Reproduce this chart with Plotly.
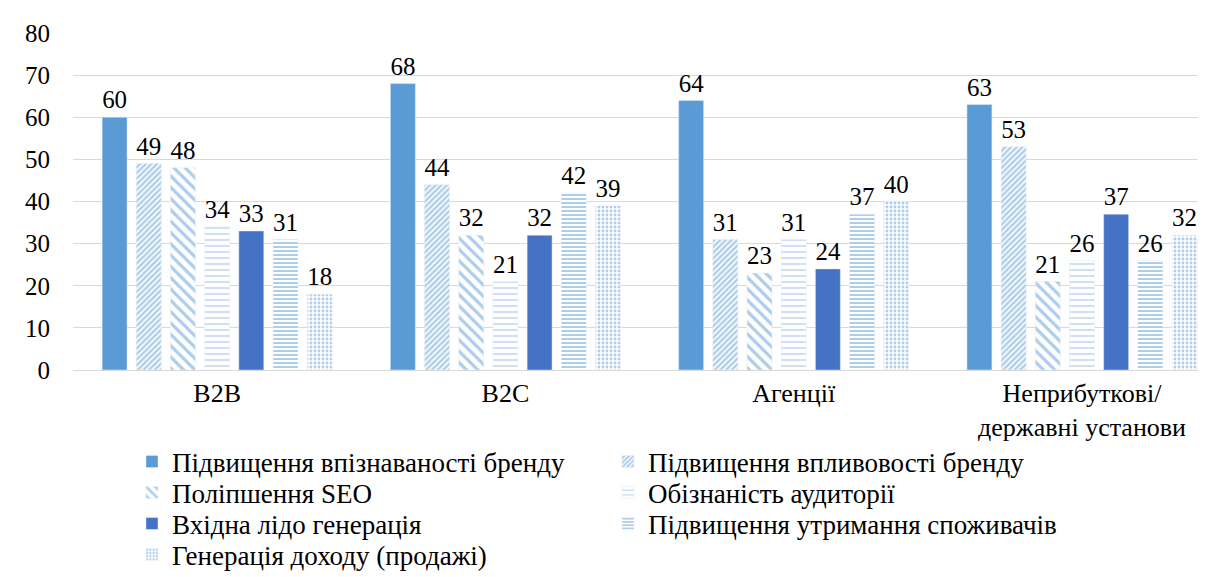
import plotly.graph_objects as go

categories = ["B2B", "B2C", "Агенції", "Неприбуткові/<br>державні установи"]
series_names = [
    "Підвищення впізнаваності бренду",
    "Підвищення впливовості бренду",
    "Поліпшення SEO",
    "Обізнаність аудиторії",
    "Вхідна лідо генерація",
    "Підвищення утримання споживачів",
    "Генерація доходу (продажі)",
]
values = [
    [60, 68, 64, 63],
    [49, 44, 31, 53],
    [48, 32, 23, 21],
    [34, 21, 31, 26],
    [33, 32, 24, 37],
    [31, 42, 37, 26],
    [18, 39, 40, 32],
]
legend_rows = ["legend", "legend", "legend2", "legend2", "legend3", "legend3", "legend4"]

styles = [
    dict(color="#5B9BD5"),
    dict(color="#5B9BD5", pattern=dict(shape="/", fgcolor="#5B9BD5", bgcolor="white", size=4, solidity=0.6)),
    dict(color="#5B9BD5", pattern=dict(shape="\\", fgcolor="#5B9BD5", bgcolor="white", size=8, solidity=0.4)),
    dict(color="#9DC3E6", pattern=dict(shape="-", fgcolor="#7FB0DE", bgcolor="white", size=6, solidity=0.25)),
    dict(color="#4472C4"),
    dict(color="#5B9BD5", pattern=dict(shape="-", fgcolor="#5B9BD5", bgcolor="white", size=4, solidity=0.5)),
    dict(color="#5B9BD5", pattern=dict(shape=".", fgcolor="#5B9BD5", bgcolor="white", size=4, solidity=0.4)),
]

FONT = "Liberation Serif"

fig = go.Figure()
for name, vals, st, lg in zip(series_names, values, styles, legend_rows):
    marker = dict(color=st["color"])
    if "pattern" in st:
        marker["pattern"] = st["pattern"]
    fig.add_trace(go.Bar(
        name=name, x=categories, y=vals, marker=marker, legend=lg,
        text=[str(v) for v in vals], textposition="outside",
        textfont=dict(family=FONT, size=26),
    ))

def row_legend(ypos):
    return dict(
        orientation="h", x=0.0517, xanchor="left", y=ypos, yanchor="middle",
        entrywidth=431, entrywidthmode="pixels", bgcolor="rgba(0,0,0,0)",
        font=dict(family=FONT, size=27),
    )

fig.update_layout(
    width=1206, height=577,
    barmode="group", bargap=0.17, bargroupgap=0.27,
    plot_bgcolor="white", paper_bgcolor="white",
    font=dict(color="#000000"),
    margin=dict(l=65, r=0, t=25, b=215, autoexpand=False),
    legend=row_legend(-0.273),
    legend2=row_legend(-0.365),
    legend3=row_legend(-0.457),
    legend4=row_legend(-0.549),
)
fig.update_yaxes(range=[0, 80], dtick=10, showgrid=True, gridcolor="#D9D9D9",
                 zeroline=False, ticks="outside", ticklen=17, tickcolor="white",
                 tickfont=dict(family=FONT, size=25))
fig.update_xaxes(range=[-0.5, 3.458], showline=True, linecolor="#D9D9D9",
                 tickfont=dict(family=FONT, size=26))

fig.write_html("out.html")
